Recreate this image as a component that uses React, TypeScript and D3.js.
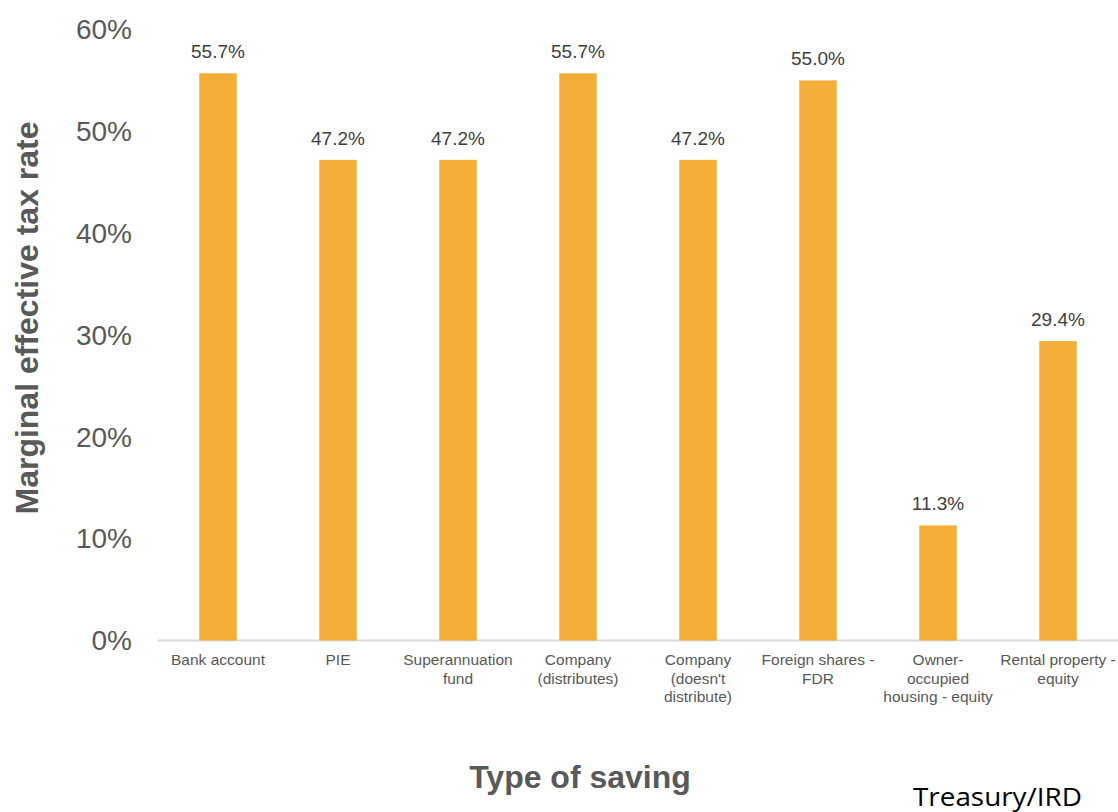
import React from "react";
import * as d3 from "d3";

const categories: string[] = [
  "Bank account",
  "PIE",
  "Superannuation\nfund",
  "Company\n(distributes)",
  "Company\n(doesn't\ndistribute)",
  "Foreign shares -\nFDR",
  "Owner-\noccupied\nhousing - equity",
  "Rental property -\nequity",
];
const values: number[] = [55.7, 47.2, 47.2, 55.7, 47.2, 55.0, 11.3, 29.4];
const yTicks: number[] = [0, 10, 20, 30, 40, 50, 60];

const W = 1118;
const H = 812;
const left = 158;
const right = 1118;
const y0 = 640.5;
const yTop = 29.5;

export default function App() {
  const x = d3.scaleBand<string>().domain(categories).range([left, right]).paddingInner(0.6875).paddingOuter(0.34375);
  const y = d3.scaleLinear().domain([0, 60]).range([y0, yTop]);
  const grey = "#595959";
  const font = "'Liberation Sans', Arial, sans-serif";
  return (
    <svg width={W} height={H} style={{ position: "absolute", left: 0, top: 0, background: "#fff" }}>
      <line x1={left} x2={right} y1={y0} y2={y0} stroke="#D9D9D9" strokeWidth={2} />
      {yTicks.map((t) => (
        <text key={t} x={132} y={y(t)} dy="0.35em" textAnchor="end" fontFamily={font} fontSize={28} fill={grey}>
          {t}%
        </text>
      ))}
      {categories.map((c, i) => (
        <g key={c}>
          <rect x={x(c)} y={y(values[i])} width={x.bandwidth()} height={y0 - y(values[i])} fill="#F2AE38" />
          <text x={(x(c) as number) + x.bandwidth() / 2} y={y(values[i]) - 15} textAnchor="middle" fontFamily={font} fontSize={19} fill="#404040">
            {values[i].toFixed(1)}%
          </text>
          <text textAnchor="middle" fontFamily={font} fontSize={15.5} fill={grey}>
            {c.split("\n").map((line, j) => (
              <tspan key={j} x={(x(c) as number) + x.bandwidth() / 2} y={665 + j * 18.5}>
                {line}
              </tspan>
            ))}
          </text>
        </g>
      ))}
      <text transform="translate(38,318) rotate(-90)" textAnchor="middle" fontFamily={font} fontWeight="bold" fontSize={32} fill={grey}>
        Marginal effective tax rate
      </text>
      <text x={580} y={788} textAnchor="middle" fontFamily={font} fontWeight="bold" fontSize={32} fill={grey}>
        Type of saving
      </text>
      <text x={913} y={806} fontFamily="'Open Sans', sans-serif" fontSize={25} textLength={169} lengthAdjust="spacingAndGlyphs" fill="#000">
        Treasury/IRD
      </text>
    </svg>
  );
}
